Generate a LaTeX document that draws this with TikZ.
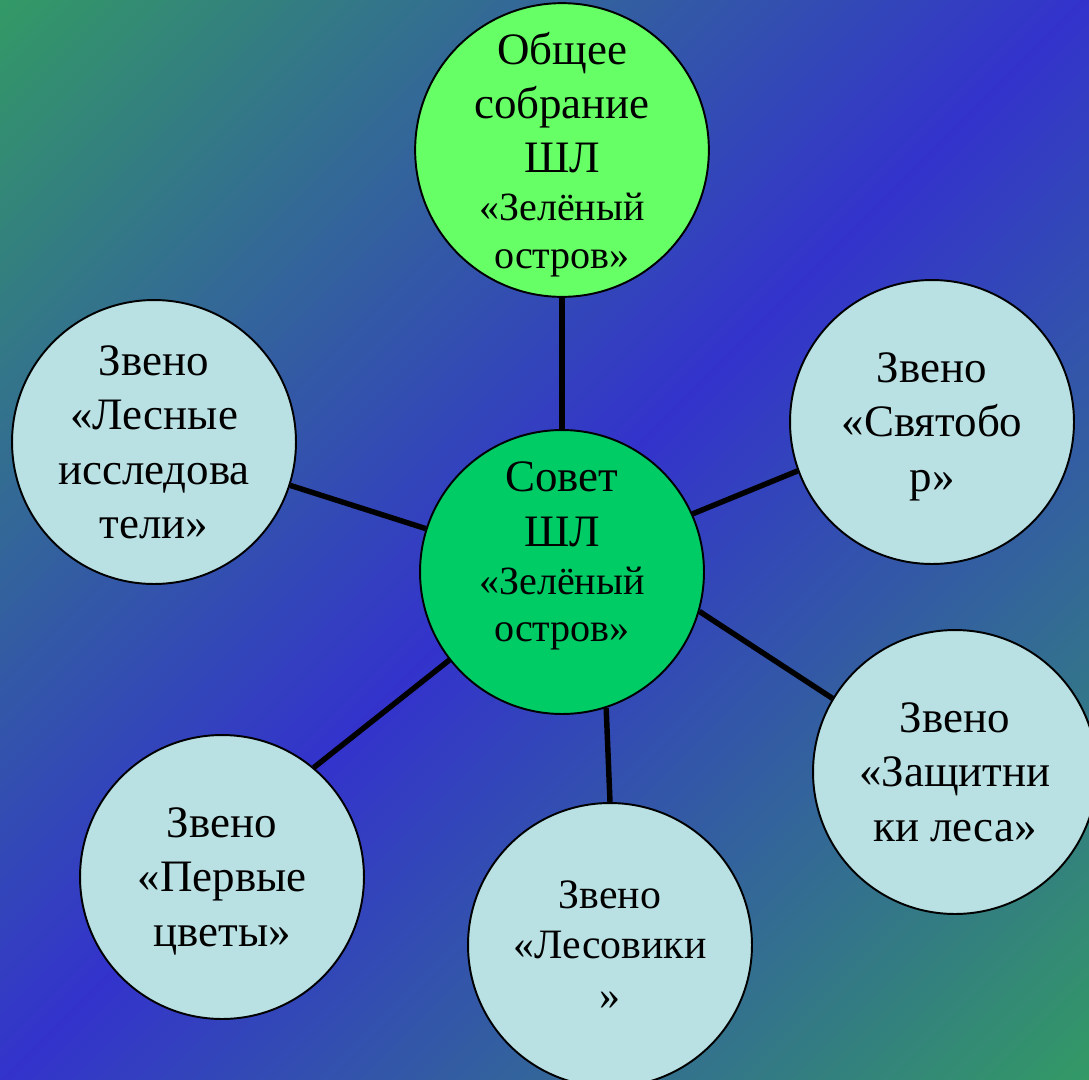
\documentclass[tikz,border=0pt]{standalone}
\usepackage{fontspec}
\setmainfont{Liberation Serif}
\definecolor{bggreen}{RGB}{51,153,102}
\definecolor{bgblue}{RGB}{51,51,204}
\definecolor{sobrgreen}{RGB}{102,255,102}
\definecolor{sovetgreen}{RGB}{0,204,102}
\definecolor{zveno}{RGB}{185,224,227}
\pgfdeclareverticalshading{bgshade}{100bp}{color(0bp)=(bggreen); color(14.6bp)=(bggreen); color(50bp)=(bgblue); color(85.4bp)=(bggreen); color(100bp)=(bggreen)}
\newcommand{\zel}{\fontsize{22.8}{27.3}\selectfont}

\begin{document}
\begin{tikzpicture}[x=0.02cm,y=-0.02cm,link/.style={line width=3.1pt}]
\shade[shading=bgshade,shading angle=45] (0,0) rectangle (1089,1079);
\useasboundingbox (0,0) rectangle (1089,1079);
\begin{scope}[every node/.style={circle,draw,line width=1.1pt,minimum size=5.68cm,inner sep=0pt,align=center,text depth=0pt,fill=zveno,font=\fontsize{25.6}{30.9}\selectfont}]
    \node[fill=sobrgreen] (6) at (562,150) {Общее\\собрание\\ШЛ\\[-3.4pt]{\zel «Зелёный}\\[-4pt]{\zel остров»}};
    \node[fill=sovetgreen,text depth=0.8cm] (0) at (562,572) {Совет\\ШЛ\\[-3.4pt]{\zel «Зелёный}\\[-4pt]{\zel остров»}};
    \node (1) at (154,442) {Звено\\«Лесные\\исследова\\тели»};
    \node[text depth=-0.08cm] (2) at (932,422) {Звено\\«Святобо\\р»};
    \node (3) at (955,772) {Звено\\«Защитни\\ки леса»};
    \node[font=\fontsize{23.8}{28.9}\selectfont] (4) at (610,945) {Звено\\«Лесовики\\»};
    \node (5) at (222,877) {Звено\\«Первые\\цветы»};
\end{scope}

\draw[link] (6) -- (0);
\draw[link] (1) -- (0);
\draw[link] (2.200) -- (0.24);
\draw[link] (3.149) -- (0.-16);
\draw[link] (4.north) -- (0.-72);
\draw[link] (5.50) -- (0.218);
\end{tikzpicture}
\end{document}
